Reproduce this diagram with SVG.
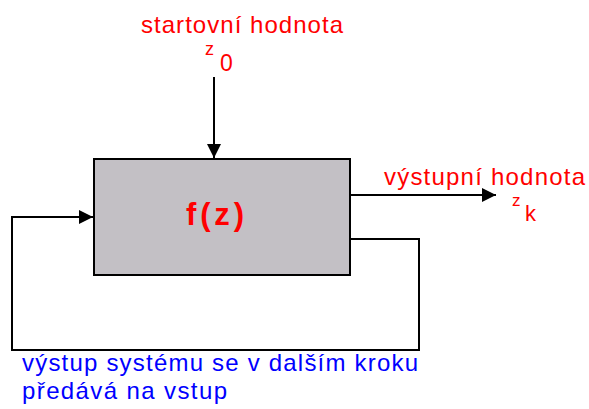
<svg xmlns="http://www.w3.org/2000/svg" width="589" height="409" viewBox="0 0 589 409">
<style>
.red{fill:#ff0000;font-family:"Liberation Sans",Arial,sans-serif}
.blue{fill:#0000ff;font-family:"Liberation Sans",Arial,sans-serif;font-size:24px}
.line{fill:none;stroke:#000;stroke-width:2}
</style>
<defs>
<marker id="ah" viewBox="0 0 14 14" refX="14" refY="7" markerWidth="14" markerHeight="14" markerUnits="userSpaceOnUse" orient="auto">
<path d="M0,0 L14,7 L0,14 Z" fill="#000"/>
</marker>
</defs>
<rect width="589" height="409" fill="#fff"/>
<g id="connectors">
<path class="line" d="M214,77 V158" marker-end="url(#ah)"/>
<path class="line" d="M351,195 H496" marker-end="url(#ah)"/>
<path class="line" d="M351,239 H419 V350 H12 V217 H93" marker-end="url(#ah)"/>
</g>
<g id="system">
<rect x="94" y="159" width="256" height="116" fill="#c3c0c5" stroke="#000" stroke-width="2"/>
<text class="red" x="186" y="225" font-size="31" font-weight="bold" textLength="58" lengthAdjust="spacing">f(z)</text>
</g>
<g id="start">
<text class="red" x="141" y="33" font-size="24" textLength="202" lengthAdjust="spacing">startovní hodnota</text>
<text class="red" x="205" y="55" font-size="18">z</text>
<text class="red" x="220" y="71" font-size="23">0</text>
</g>
<g id="output">
<text class="red" x="384" y="185" font-size="24" textLength="201" lengthAdjust="spacing">výstupní hodnota</text>
<text class="red" x="512" y="206" font-size="17">z</text>
<text class="red" x="525" y="221" font-size="22">k</text>
</g>
<g id="feedback-note">
<text class="blue" x="22" y="371" textLength="396" lengthAdjust="spacing">výstup systému se v dalším kroku</text>
<text class="blue" x="22" y="399" textLength="205" lengthAdjust="spacing">předává na vstup</text>
</g>
</svg>
